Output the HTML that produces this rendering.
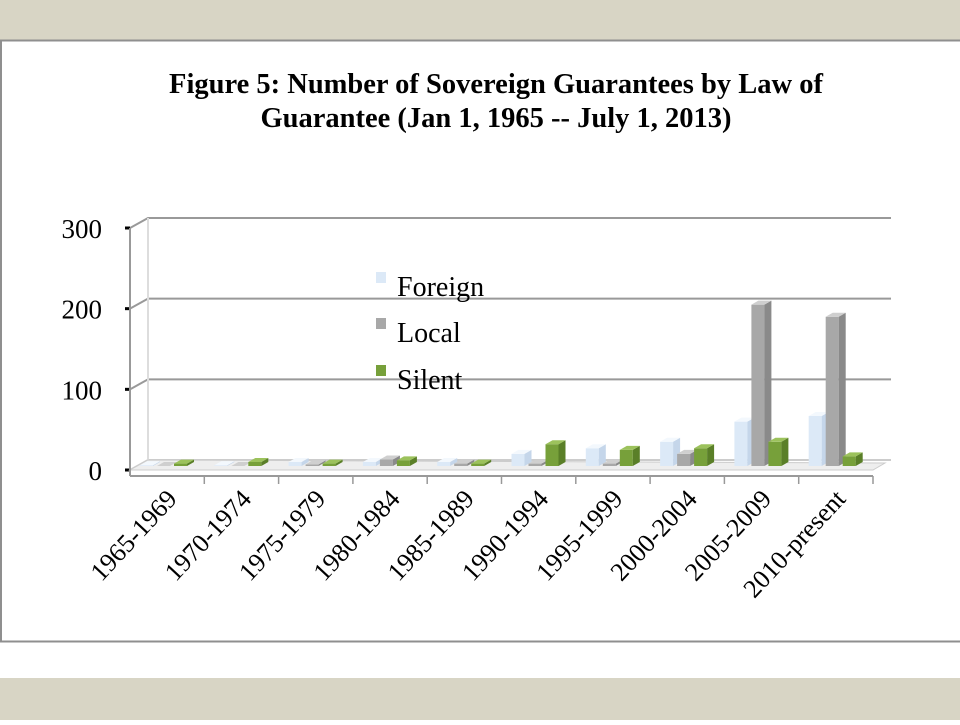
<!DOCTYPE html>
<html><head><meta charset="utf-8"><style>
body{margin:0;width:960px;height:720px;overflow:hidden;background:#fff;font-family:"Liberation Serif",serif}
</style></head><body>
<svg width="960" height="720">
<rect x="0" y="0" width="960" height="40" fill="#d8d5c5"/>
<rect x="0" y="678" width="960" height="42" fill="#d8d5c5"/>
<rect x="1" y="40.5" width="962" height="601" fill="#fff" stroke="#8f8f8f" stroke-width="2"/>
<text x="496" y="93" text-anchor="middle" font-size="28.5" font-weight="bold">Figure 5: Number of Sovereign Guarantees by Law of</text>
<text x="496" y="127" text-anchor="middle" font-size="28.5" font-weight="bold">Guarantee (Jan 1, 1965 -- July 1, 2013)</text>
<g id="chart"></g>
</svg>
<script>
const categories=["1965-1969","1970-1974","1975-1979","1980-1984","1985-1989","1990-1994","1995-1999","2000-2004","2005-2009","2010-present"];
const foreign=[1,1,5,5,5,15,22,30,55,62];
const local=[0,0,2,8,3,3,3,15,200,185];
const silent=[3,5,3,7,3,27,20,22,30,12];
const yTicks=[0,100,200,300];
const NS="http://www.w3.org/2000/svg";
const g=document.getElementById('chart');
const x0=130,x1=873,y0=470,yScale=242/300,dx=18,dy=-10;
const cw=(x1-x0)/categories.length;
const Y=v=>y0-v*yScale;
function mk(t,a,p){const e=document.createElementNS(NS,t);for(const k in a)e.setAttribute(k,a[k]);(p||g).appendChild(e);return e;}
yTicks.forEach((t,i)=>{
 const l=mk('path',{d:`M${x0},${Y(t)} L${x0+dx},${Y(t)+dy} L${x1+dx},${Y(t)+dy}`,fill:'none',stroke:t===0?'#ccc':'#999',"stroke-width":2});
 
 
 const tk=mk('line',{x1:x0-5,x2:x0,y1:Y(t),y2:Y(t),stroke:'#000',"stroke-width":3});
 
 
 const tx=mk('text',{x:x0-28,y:Y(t)+10,"text-anchor":'end',"font-size":27});
 tx.textContent=t;
 
 
});
const wall=mk('line',{x1:x0+dx,y1:Y(300)+dy,x2:x0+dx,y2:y0+dy,stroke:'#ddd',"stroke-width":2});


const floor=mk('path',{d:`M${x0},${y0} L${x1},${y0} L${x1+dx-6},${y0+dy+3} L${x0+dx},${y0+dy}Z`,fill:'#eee',stroke:'#ccc'});


const yax=mk('line',{x1:x0,y1:Y(300),x2:x0,y2:y0+6,stroke:'#999',"stroke-width":2});


const xax=mk('line',{x1:x0,y1:y0+6,x2:x1,y2:y0+6,stroke:'#999',"stroke-width":2});


const series=[["foreign",foreign,'#dce9f7','#c5d6ea','#f3f8fd'],["local",local,'#a8a8a8','#8a8a8a','#cfcfcf'],["silent",silent,'#77a03a','#5a7f28','#9cc25c']];
const bw=17,fw=13;
categories.forEach((c,i)=>{
 const cx=x0+i*cw;
 const tk=mk('line',{x1:cx+cw,x2:cx+cw,y1:y0+6,y2:y0+14,stroke:'#999',"stroke-width":1.5});
 
 
 series.forEach((s,j)=>{
  const v=s[1][i];const bx=cx+10+j*bw,by=Y(v)+dy*0.4,bb=y0+dy*0.4;const d=7,e=-4;
  const grp=mk('g',{});
  
  
  mk('rect',{x:bx,y:by,width:fw,height:Math.max(bb-by,0),fill:s[2]},grp);
  mk('path',{d:`M${bx+fw},${by} L${bx+fw+d},${by+e} L${bx+fw+d},${bb+e} L${bx+fw},${bb}Z`,fill:s[3]},grp);
  mk('path',{d:`M${bx},${by} L${bx+d},${by+e} L${bx+fw+d},${by+e} L${bx+fw},${by}Z`,fill:s[4]},grp);
 });
 const t=mk('text',{"font-size":26,"text-anchor":'end',transform:`translate(${cx+cw*0.65},${y0+30}) rotate(-47)`});
 t.textContent=c;
 
 
});
const leg=[["Foreign",'#dce9f7',287],["Local",'#a8a8a8',333],["Silent",'#77a03a',380]];
leg.forEach(l=>{
 const r=mk('rect',{x:376,y:l[2]-15,width:10,height:11,fill:l[1]});
 
 
 const t=mk('text',{x:397,y:l[2]+9,"font-size":28});
 t.textContent=l[0];
 
 
});
</script>
</body></html>
